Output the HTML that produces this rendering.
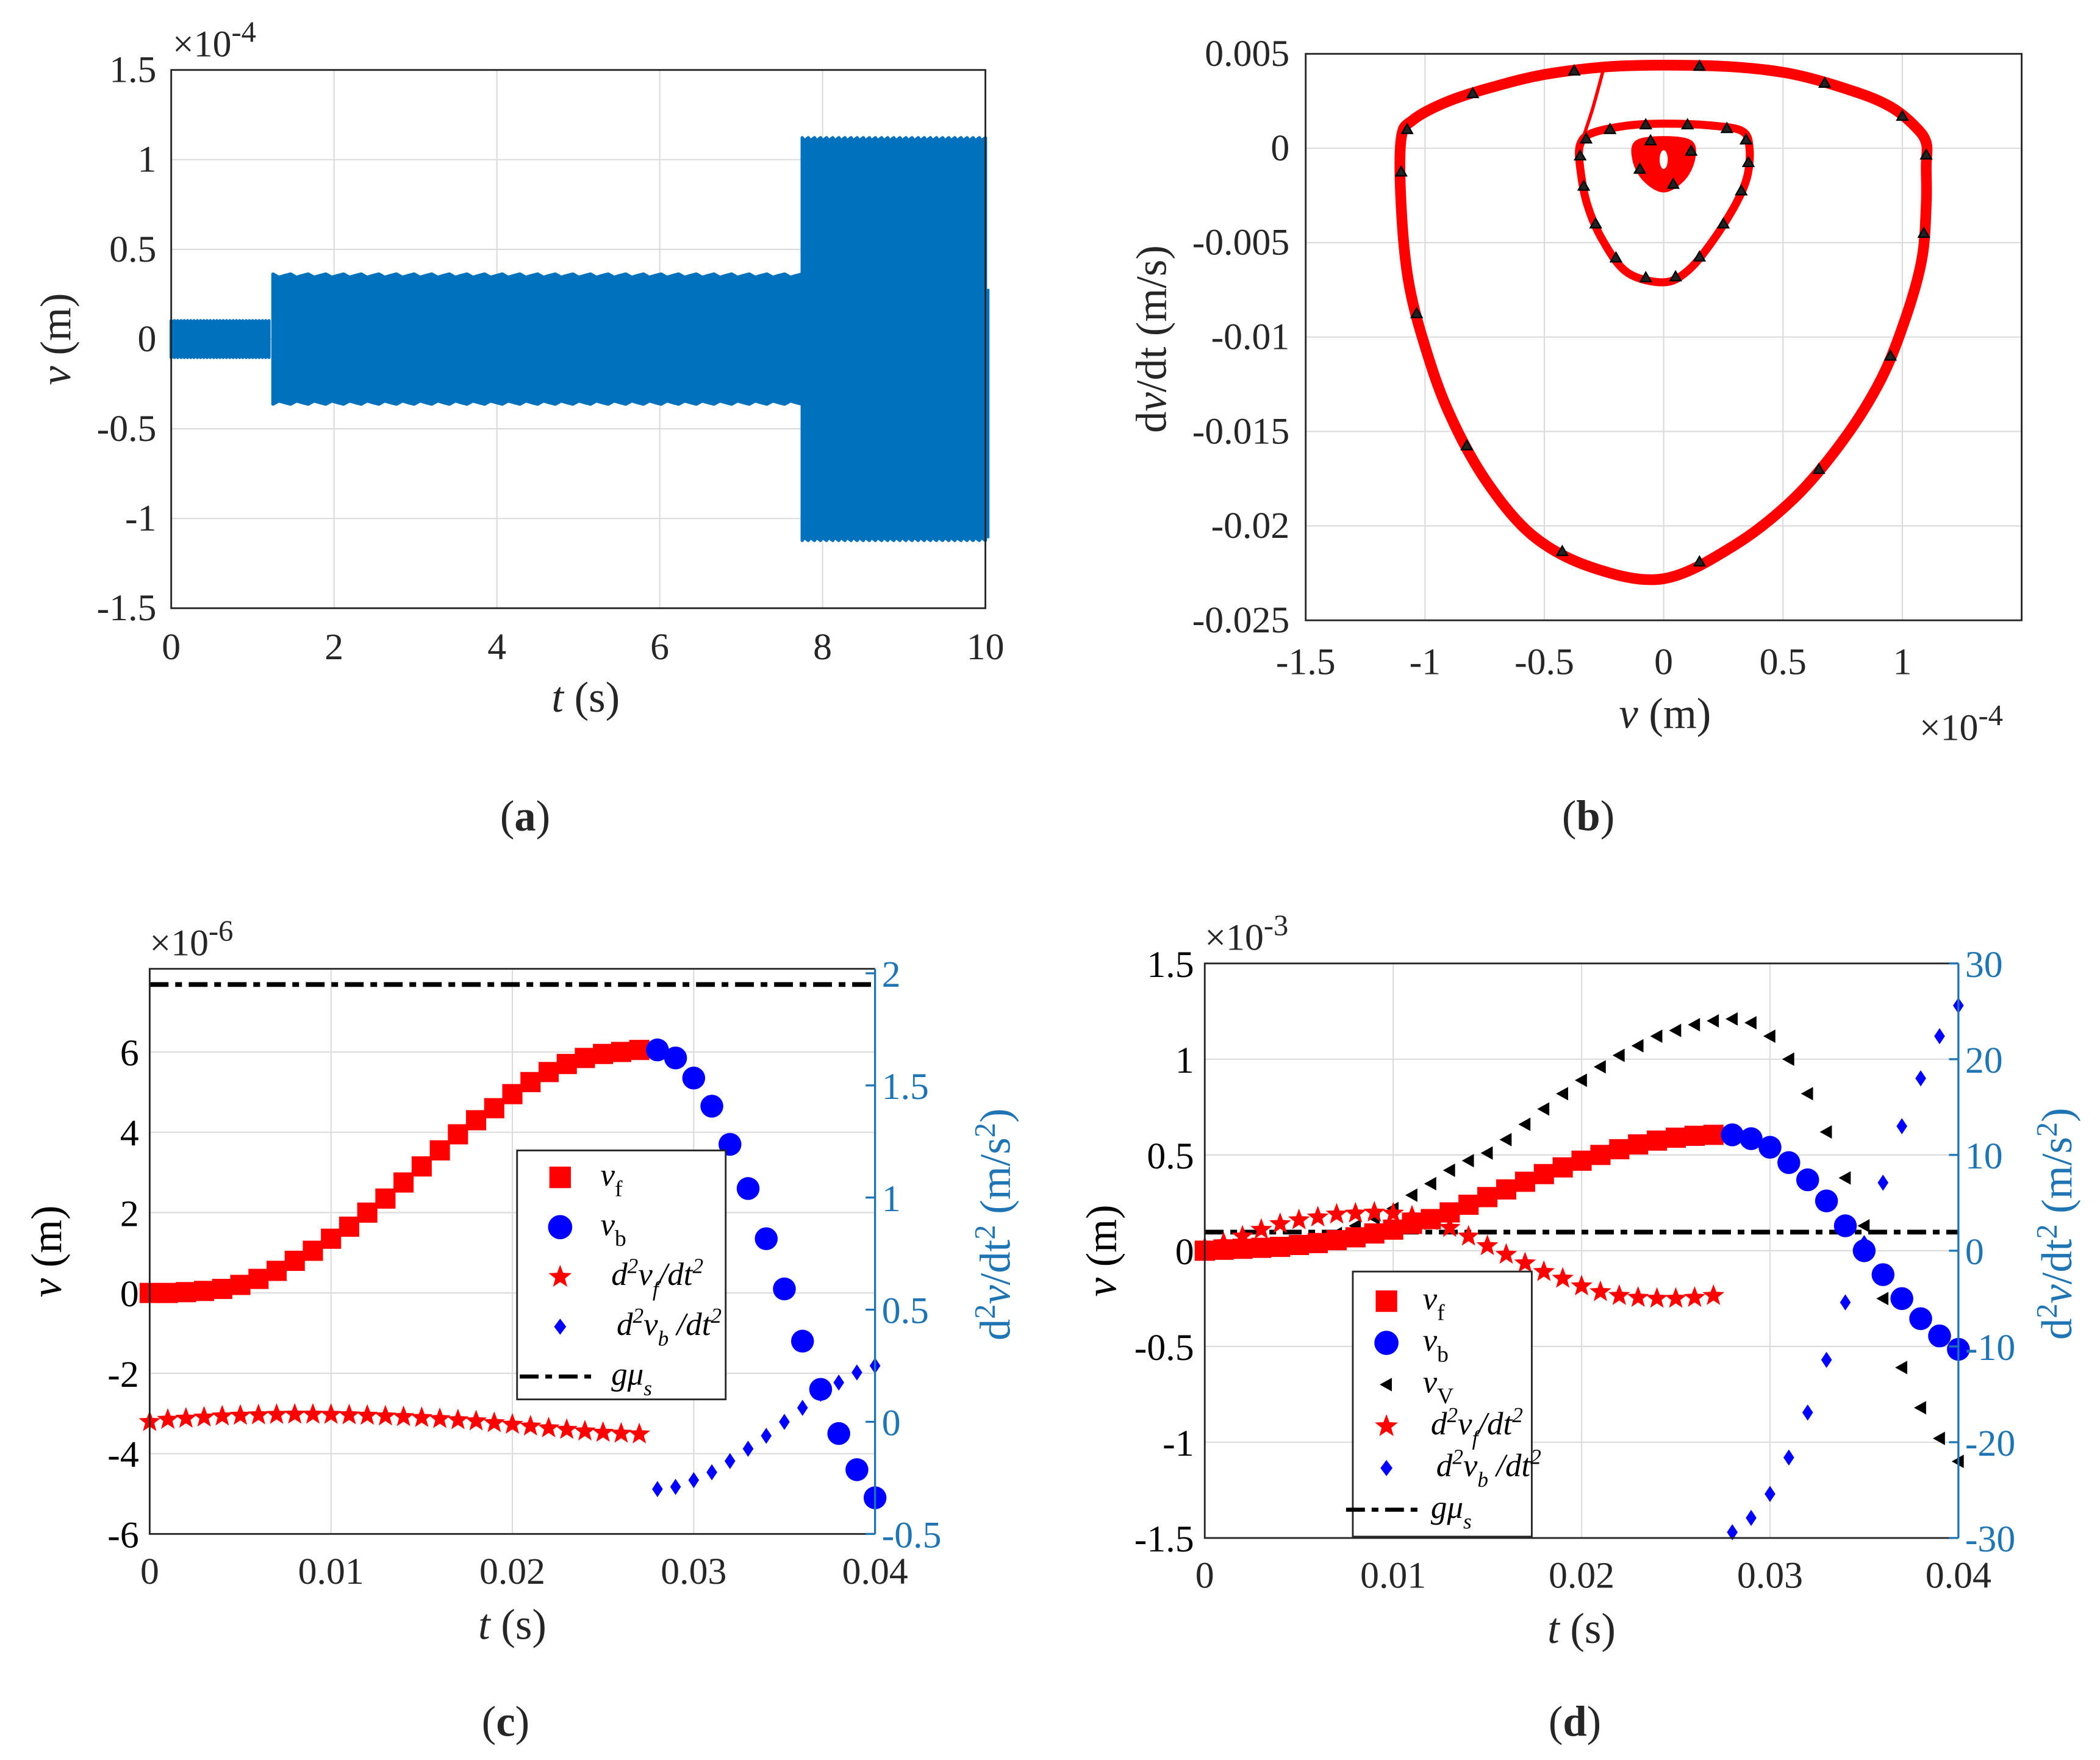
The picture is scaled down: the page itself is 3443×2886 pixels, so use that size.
<!DOCTYPE html>
<html><head><meta charset="utf-8"><style>
html,body{margin:0;padding:0;background:#fff;}
svg{display:block;}
text{font-family:"Liberation Serif",serif;fill:#262626;}
</style></head><body>
<svg id="fig" xmlns="http://www.w3.org/2000/svg" width="3443" height="2886" viewBox="0 0 1560 1308"></svg>
<script>
// ---------- DATA ----------
// panel a: envelope segments [tStart, tEnd] and amplitudes (x1e-4 m)
const aSegStart = [0, 1.25, 7.75];
const aSegEnd = [1.2, 7.75, 10.0];
const aSegAmp = [0.09, 0.35, 1.11];
const aTailT = 10.0, aTailTop = 0.28;
// panel b: phase portrait loops (v x1e-4 m, dv/dt x1e-3 m/s)
const bOuterV = [-1.1,-1.05,-0.9,-0.7,-0.5,-0.25,0,0.3,0.55,0.8,0.95,1.05,1.1,1.1,1.1,1.08,1.0,0.9,0.75,0.55,0.3,0,-0.3,-0.55,-0.75,-0.9,-1.0,-1.07,-1.1,-1.1];
const bOuterD = [0.5,1.5,2.5,3.3,3.9,4.3,4.4,4.3,3.9,3.0,2.2,1.2,0.3,-1,-3,-6,-9.5,-12.5,-15.5,-18.5,-21,-22.8,-22.2,-20.5,-17.5,-14,-10.5,-7,-3,0.5];
const bInnerV = [-0.35,-0.3,-0.15,0,0.2,0.33,0.36,0.35,0.3,0.2,0.1,0,-0.15,-0.25,-0.32,-0.35,-0.35];
const bInnerD = [0.2,0.8,1.2,1.3,1.2,0.9,0,-1.5,-3,-5,-6.5,-7.1,-6.6,-5,-3,-1,0.2];
const bSmallV = [-0.11,0,0.11,0.12,0.08,0,-0.08,-0.12,-0.11];
const bSmallD = [0.3,0.5,0.3,-0.6,-1.6,-2.2,-1.6,-0.6,0.3];
const bLinkV = [-0.35,-0.3,-0.25];
const bLinkD = [0.1,2.0,4.3];
// panel c
const cT1 = [0,0.001,0.002,0.003,0.004,0.005,0.006,0.007,0.008,0.009,0.010,0.011,0.012,0.013,0.014,0.015,0.016,0.017,0.018,0.019,0.020,0.021,0.022,0.023,0.024,0.025,0.026,0.027];
const cT2 = [0.028,0.029,0.030,0.031,0.032,0.033,0.034,0.035,0.036,0.037,0.038,0.039,0.040];
const cVf = [0,0,0.02,0.05,0.1,0.2,0.35,0.55,0.8,1.05,1.35,1.65,2.0,2.35,2.75,3.15,3.55,3.95,4.3,4.6,4.95,5.25,5.5,5.7,5.85,5.95,6.0,6.05];
const cVb = [6.05,5.85,5.35,4.65,3.7,2.6,1.35,0.1,-1.2,-2.4,-3.5,-4.4,-5.1];
const cAf = [0,0.01,0.015,0.02,0.025,0.028,0.03,0.032,0.033,0.033,0.032,0.03,0.028,0.025,0.022,0.018,0.013,0.008,0.003,-0.005,-0.012,-0.02,-0.028,-0.035,-0.042,-0.048,-0.052,-0.055];
const cAb = [-0.30,-0.29,-0.26,-0.225,-0.175,-0.12,-0.0625,0,0.0625,0.125,0.175,0.22,0.25];
const cGmu = 1.95;
const cLeftTicks = [-6,-4,-2,0,2,4,6];
const cRightTicks = [-0.5,0,0.5,1,1.5,2];
const cXTicks = [0,0.01,0.02,0.03,0.04];
// panel d
const dT1 = cT1;
const dT2 = cT2;
const dTV = [0,0.001,0.002,0.003,0.004,0.005,0.006,0.007,0.008,0.009,0.010,0.011,0.012,0.013,0.014,0.015,0.016,0.017,0.018,0.019,0.020,0.021,0.022,0.023,0.024,0.025,0.026,0.027,0.028,0.029,0.030,0.031,0.032,0.033,0.034,0.035,0.036,0.037,0.038,0.039,0.040];
const dVf = [0,0.005,0.01,0.015,0.02,0.03,0.04,0.055,0.07,0.09,0.11,0.14,0.165,0.2,0.24,0.28,0.32,0.36,0.4,0.435,0.47,0.5,0.53,0.555,0.575,0.59,0.6,0.605];
const dVb = [0.605,0.585,0.54,0.46,0.37,0.26,0.13,0,-0.125,-0.25,-0.355,-0.445,-0.515];
const dVV = [0,-0.005,0,0.01,0.02,0.04,0.06,0.09,0.13,0.17,0.22,0.29,0.35,0.42,0.47,0.51,0.58,0.66,0.74,0.82,0.89,0.96,1.02,1.07,1.12,1.15,1.18,1.2,1.21,1.19,1.12,1.0,0.82,0.62,0.38,0.13,-0.25,-0.61,-0.82,-0.98,-1.1];
const dAf = [0.3,0.8,1.5,2.2,2.8,3.2,3.5,3.8,3.9,4.0,3.9,3.6,3.1,2.4,1.5,0.5,-0.4,-1.3,-2.2,-2.9,-3.7,-4.3,-4.7,-4.9,-5.0,-5.0,-4.9,-4.7];
const dAb = [-29.4,-27.9,-25.4,-21.6,-16.9,-11.4,-5.4,0.8,7.1,13.0,18.0,22.4,25.6];
const dGmu = 1.94;
const dLeftTicks = [-1.5,-1,-0.5,0,0.5,1,1.5];
const dRightTicks = [-30,-20,-10,0,10,20,30];

// ---------- HELPERS ----------
const NS = "http://www.w3.org/2000/svg";
const fig = document.getElementById('fig');
function mk(tag, attrs, parent) {
  const e = document.createElementNS(NS, tag);
  for (const k in attrs) e.setAttribute(k, attrs[k]);
  (parent || fig).appendChild(e);
  return e;
}
function lin(d0, d1, r0, r1) { return v => r0 + (v - d0) * (r1 - r0) / (d1 - d0); }
function txt(x, y, s, size, anchor, parent, color) {
  const t = mk('text', {x: x, y: y, 'font-size': size, 'text-anchor': anchor || 'middle'}, parent);
  if (color) t.setAttribute('style', 'fill:' + color);
  t.innerHTML = s;
  return t;
}
function fmt(v) { return String(v); }
const GRID = '#dcdcdc';
const AX = '#262626';
const BLUEAX = '#1f74b4';
const TF = 28, AF = 32;

function frame(g, L, R, T, B, name) {
  const r = mk('rect', {x: L, y: T, width: R - L, height: B - T, fill: 'none', stroke: AX, 'stroke-width': 1.3}, g);
  
  
}
function gridV(g, xs, T, B) {
  xs.forEach(x => { const l = mk('line', {x1: x, x2: x, y1: T, y2: B, stroke: GRID, 'stroke-width': 1}, g);
    
     });
}
function gridH(g, ys, L, R) {
  ys.forEach(y => { const l = mk('line', {x1: L, x2: R, y1: y, y2: y, stroke: GRID, 'stroke-width': 1}, g);
    
     });
}
function star(g, cx, cy, r, fill) {
  let p = [];
  for (let i = 0; i < 10; i++) {
    const a = -Math.PI / 2 + i * Math.PI / 5;
    const rr = i % 2 ? r * 0.42 : r;
    p.push((cx + rr * Math.cos(a)).toFixed(2) + ',' + (cy + rr * Math.sin(a)).toFixed(2));
  }
  return mk('polygon', {points: p.join(' '), fill: fill}, g);
}
function diamond(g, cx, cy, w, h, fill) {
  return mk('polygon', {points: `${cx},${cy-h} ${cx+w},${cy} ${cx},${cy+h} ${cx-w},${cy}`, fill: fill}, g);
}
function triL(g, cx, cy, s, fill) {
  return mk('polygon', {points: `${cx-s},${cy} ${cx+s*0.8},${cy-s} ${cx+s*0.8},${cy+s}`, fill: fill}, g);
}
function smooth(P, closed) {
  const n = P.length;
  let d = `M${P[0][0].toFixed(1)},${P[0][1].toFixed(1)}`;
  for (let i = 0; i < n - 1; i++) {
    const p0 = P[i === 0 ? (closed ? n - 2 : 0) : i - 1], p1 = P[i], p2 = P[i + 1], p3 = P[i + 2 < n ? i + 2 : (closed ? 1 : n - 1)];
    const c1 = [p1[0] + (p2[0] - p0[0]) / 6, p1[1] + (p2[1] - p0[1]) / 6];
    const c2 = [p2[0] - (p3[0] - p1[0]) / 6, p2[1] - (p3[1] - p1[1]) / 6];
    d += ` C${c1[0].toFixed(1)},${c1[1].toFixed(1)} ${c2[0].toFixed(1)},${c2[1].toFixed(1)} ${p2[0].toFixed(1)},${p2[1].toFixed(1)}`;
  }
  return d + (closed ? 'Z' : '');
}

// ---------- PANEL A ----------
(function(){
  const g = mk('g', {});
  
  
  const L = 127, R = 732, T = 52, B = 452;
  const x = lin(0, 10, L, R), y = lin(-1.5, 1.5, B, T);
  const xt = [0,2,4,6,8,10], yt = [-1.5,-1,-0.5,0,0.5,1,1.5];
  gridV(g, xt.map(x), T, B); gridH(g, yt.map(y), L, R);
  for (let i = 0; i < aSegStart.length; i++) {
    const s = aSegStart[i], e = aSegEnd[i], a = aSegAmp[i];
    const top = [], bot = [];
    const n = 90;
    for (let k = 0; k <= n; k++) {
      const t = s + (e - s) * k / n;
      const w = (k % 3 === 0 ? 0.012 : (k % 3 === 1 ? -0.006 : 0.004));
      top.push(x(t).toFixed(1) + ',' + y(a + w).toFixed(1));
      bot.unshift(x(t).toFixed(1) + ',' + y(-a - w).toFixed(1));
    }
    const p = mk('polygon', {points: top.concat(bot).join(' '), fill: '#0072bd', stroke: '#0072bd', 'stroke-width': 2.5, 'stroke-linejoin': 'round'}, g);
    
    
  }
  const tail = mk('rect', {x: x(aTailT), y: y(aTailTop), width: 3, height: y(-aSegAmp[2]) - y(aTailTop), fill: '#0072bd'}, g);
  
  
  frame(g, L, R, T, B, 'axes-a');
  xt.forEach(v => { const t = txt(x(v), 490, fmt(v), TF, 'middle', g);
    
     });
  yt.forEach(v => { const t = txt(116, y(v) + 9, fmt(v), TF, 'end', g);
    
     });
  let t = txt(128, 42, '×10<tspan dy="-11" font-size="22">-4</tspan>', TF, 'start', g);
  
  
  t = txt(435, 529, '<tspan font-style="italic">t</tspan> (s)', AF, 'middle', g);
  
  
  t = txt(0, 0, '<tspan font-style="italic">ν</tspan> (m)', AF, 'middle', g);
  t.setAttribute('transform', 'translate(52,252) rotate(-90)');
  
  
  t = txt(390, 617, '(<tspan font-weight="bold">a</tspan>)', 32, 'middle', g);
  
  
})();

// ---------- PANEL B ----------
(function(){
  const g = mk('g', {});
  
  
  const L = 970, R = 1502, T = 40, B = 461;
  const x = lin(-1.5, 1.5, L, R), y = lin(-25, 5, B, T);
  const xt = [-1.5,-1,-0.5,0,0.5,1], yt = [-25,-20,-15,-10,-5,0,5];
  gridV(g, xt.concat([1.5]).map(x), T, B); gridH(g, yt.map(y), L, R);
  function path(V, D, w, name, close, fill) {
    const P = V.map((v, i) => [x(v), y(D[i])]);
    const p = mk('path', {d: smooth(P, close), fill: fill || 'none', stroke: '#ff0000', 'stroke-width': w, 'stroke-linejoin': 'round', 'stroke-linecap': 'round'}, g);
    
    
  }
  path(bOuterV, bOuterD, 8, 'outer-orbit', true);
  path(bInnerV, bInnerD, 6, 'inner-orbit', true);
  path(bSmallV, bSmallD, 4, 'small-orbit', true, '#ff0000');
  const hole = mk('ellipse', {cx: x(0), cy: y(-0.6), rx: 3, ry: 7, fill: '#fff'}, g);
  
  
  path(bLinkV, bLinkD, 2.5, 'transition-path', false);
  function marks(V, D, every) {
    for (let i = 0; i < V.length - 1; i += every) {
      const mx = (x(V[i]) + x(V[i + 1])) / 2, my = (y(D[i]) + y(D[i + 1])) / 2;
      const m = mk('polygon', {points: `${mx-4},${my+3} ${mx+4},${my+3} ${mx},${my-4}`, fill: '#222', stroke: '#000', 'stroke-width': 1}, g);
      
      
    }
  }
  marks(bOuterV, bOuterD, 2);
  marks(bInnerV, bInnerD, 1);
  marks(bSmallV, bSmallD, 2);
  frame(g, L, R, T, B, 'axes-b');
  xt.forEach(v => { const t = txt(x(v), 501, fmt(v), TF, 'middle', g);
    
     });
  const ylab = ['-0.025','-0.02','-0.015','-0.01','-0.005','0','0.005'];
  yt.forEach((v, i) => { const t = txt(958, y(v) + 9, ylab[i], TF, 'end', g);
    
     });
  let t = txt(1426, 550, '×10<tspan dy="-11" font-size="22">-4</tspan>', TF, 'start', g);
  
  
  t = txt(1237, 541, '<tspan font-style="italic">ν</tspan> (m)', AF, 'middle', g);
  
  
  t = txt(0, 0, 'd<tspan font-style="italic">ν</tspan>/dt (m/s)', AF, 'middle', g);
  t.setAttribute('transform', 'translate(866,252) rotate(-90)');
  
  
  t = txt(1180, 617, '(<tspan font-weight="bold">b</tspan>)', 32, 'middle', g);
  
  
})();

// ---------- legend helper ----------
function legendEntry(g, kind, mx, my, label, lx) {
  const eg = mk('g', {}, g);
  
  
  if (kind === 'sq') mk('rect', {x: mx - 8, y: my - 8, width: 16, height: 16, fill: '#ff0000'}, eg);
  if (kind === 'ci') { mk('circle', {cx: mx, cy: my, r: 9, fill: '#0000ff'}, eg); }
  if (kind === 'st') star(eg, mx, my, 9, '#ff0000');
  if (kind === 'di') diamond(eg, mx, my, 4.5, 6, '#0000ff');
  if (kind === 'tr') triL(eg, mx, my, 5, '#000');
  if (kind === 'ln') mk('line', {x1: mx - 30, x2: mx + 25, y1: my, y2: my, stroke: '#000', 'stroke-width': 3, 'stroke-dasharray': '14 5 5 5'}, eg);
  const t = txt(lx, my + 6, label, 24, 'start', eg);
  t.setAttribute('style', 'fill:#000');
}
const LBL_F = '<tspan font-style="italic">ν</tspan><tspan dy="8" font-size="17">f</tspan>';
const LBL_B = '<tspan font-style="italic">ν</tspan><tspan dy="8" font-size="17">b</tspan>';
const LBL_V = '<tspan font-style="italic">ν</tspan><tspan dy="8" font-size="17">V</tspan>';
const LBL_AF = '<tspan font-style="italic">d<tspan dy="-9" font-size="16">2</tspan><tspan dy="9">ν</tspan><tspan dy="8" font-size="16">f</tspan><tspan dy="-8">/dt</tspan><tspan dy="-9" font-size="16">2</tspan></tspan>';
const LBL_AB = '<tspan font-style="italic">d<tspan dy="-9" font-size="16">2</tspan><tspan dy="9">ν</tspan><tspan dy="8" font-size="16">b</tspan><tspan dy="-8"> /dt</tspan><tspan dy="-9" font-size="16">2</tspan></tspan>';
const LBL_G = '<tspan font-style="italic">gμ<tspan dy="8" font-size="16">s</tspan></tspan>';

// ---------- PANEL C / D builder ----------
function twoAxis(cfg) {
  const g = mk('g', {});
  
  
  const {L, R, T, B} = cfg;
  const x = lin(0, 0.04, L, R);
  const yl = lin(cfg.lMin, cfg.lMax, B, T);
  const yr = lin(cfg.rMin, cfg.rMax, B, T);
  gridV(g, cXTicks.map(x), T, B); gridH(g, cfg.lTicks.map(yl), L, R);
  const gl = mk('line', {x1: L, x2: R, y1: yr(cfg.gmu), y2: yr(cfg.gmu), stroke: '#000', 'stroke-width': 3.5, 'stroke-dasharray': '14 5 5 5'}, g);
  
  
  if (cfg.vV) cfg.tV.forEach((t, i) => { const m = triL(g, x(t), yl(cfg.vV[i]), 5, '#000');
    
     });
  cfg.t1.forEach((t, i) => { const m = star(g, x(t), yr(cfg.af[i]), 8.5, '#ff0000');
    
     });
  cfg.t1.forEach((t, i) => { const m = mk('rect', {x: x(t) - 7.5, y: yl(cfg.vf[i]) - 7.5, width: 15, height: 15, fill: '#ff0000'}, g);
    
     });
  cfg.t2.forEach((t, i) => { const m = mk('circle', {cx: x(t), cy: yl(cfg.vb[i]), r: 8.5, fill: '#0000ff'}, g);
    
     });
  cfg.t2.forEach((t, i) => { const m = diamond(g, x(t), yr(cfg.ab[i]), 4, 6, '#0000ff');
    
     });
  const fr = mk('path', {d: `M${R},${T} L${L},${T} L${L},${B} L${R},${B}`, fill: 'none', stroke: AX, 'stroke-width': 1.3}, g);
  
  
  const ra = mk('line', {x1: R, x2: R, y1: T, y2: B, stroke: BLUEAX, 'stroke-width': 1.5}, g);
  
  
  cfg.rTicks.forEach(v => { mk('line', {x1: R - 7, x2: R, y1: yr(v), y2: yr(v), stroke: BLUEAX, 'stroke-width': 1.5}, g);
    const t = txt(R + 5, yr(v) + 10, fmt(v), TF, 'start', g, BLUEAX);
    
     });
  cfg.lTicks.forEach(v => { const t = txt(L - 8, yl(v) + 10, fmt(v), TF, 'end', g, '#000');
    
     });
  cXTicks.forEach(v => { const t = txt(x(v), B + 37, fmt(v), TF, 'middle', g);
    
     });
  let t = txt(L, T - 10, '×10<tspan dy="-11" font-size="22">' + cfg.exp + '</tspan>', TF, 'start', g);
  
  
  t = txt((L + R) / 2, B + 78, '<tspan font-style="italic">t</tspan> (s)', AF, 'middle', g);
  
  
  t = txt(0, 0, '<tspan font-style="italic">ν</tspan> (m)', AF, 'middle', g);
  t.setAttribute('transform', `translate(${L - 66},${(T + B) / 2}) rotate(-90)`);
  t.setAttribute('style', 'fill:#000');
  
  
  t = txt(0, 0, 'd<tspan dy="-11" font-size="22">2</tspan><tspan dy="11" font-style="italic">ν</tspan>/dt<tspan dy="-11" font-size="22">2</tspan><tspan dy="11"> (m/s</tspan><tspan dy="-11" font-size="22">2</tspan><tspan dy="11">)</tspan>', AF, 'middle', g, BLUEAX);
  t.setAttribute('transform', `translate(${R + cfg.rt},${(T + B) / 2 - 20}) rotate(-90)`);
  
  
  t = txt((L + R) / 2 - 5, 1290, '(<tspan font-weight="bold">' + cfg.letter + '</tspan>)', 32, 'middle', g);
  
  
  const lg = mk('g', {}, g);
  
  
  const lb = cfg.leg;
  mk('rect', {x: lb.x, y: lb.y, width: lb.w, height: lb.h, fill: '#fff', stroke: AX, 'stroke-width': 1.3}, lg);
  lb.items.forEach((it, i) => legendEntry(lg, it[0], lb.x + lb.mx, lb.y + lb.first + i * lb.step, it[1], lb.x + lb.lx + (it[2] || 0)));
}

twoAxis({name: 'panel-c', letter: 'c', L: 111, R: 650, T: 720, B: 1140, rt: 100,
  lMin: -6, lMax: 8.07, rMin: -0.5, rMax: 2.02, lTicks: cLeftTicks, rTicks: cRightTicks, exp: '-6',
  t1: cT1, t2: cT2, vf: cVf, vb: cVb, af: cAf, ab: cAb, gmu: cGmu,
  leg: {x: 384, y: 855, w: 155, h: 185, mx: 32, lx: 62, first: 20, step: 37,
    items: [['sq', LBL_F], ['ci', LBL_B], ['st', LBL_AF, 8], ['di', LBL_AB, 12], ['ln', LBL_G, 8]]}});

twoAxis({name: 'panel-d', letter: 'd', L: 895, R: 1455, T: 716, B: 1143, rt: 84,
  lMin: -1.5, lMax: 1.5, rMin: -30, rMax: 30, lTicks: dLeftTicks, rTicks: dRightTicks, exp: '-3',
  t1: dT1, t2: dT2, vf: dVf, vb: dVb, af: dAf, ab: dAb, gmu: dGmu, tV: dTV, vV: dVV,
  leg: {x: 1005, y: 945, w: 133, h: 197, mx: 25, lx: 52, first: 22, step: 31,
    items: [['sq', LBL_F], ['ci', LBL_B], ['tr', LBL_V], ['st', LBL_AF, 6], ['di', LBL_AB, 10], ['ln', LBL_G, 6]]}});
</script>
</body></html>
